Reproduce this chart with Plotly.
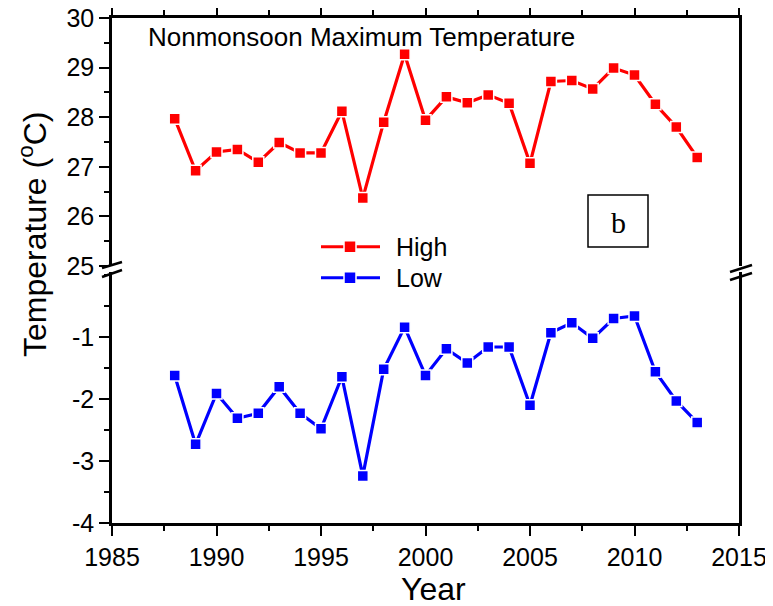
import plotly.graph_objects as go

years = list(range(1988, 2014))
high = [27.97, 26.92, 27.30, 27.35, 27.09, 27.49, 27.28, 27.28, 28.12, 26.37, 27.90,
        29.27, 27.94, 28.41, 28.29, 28.45, 28.28, 27.07, 28.72, 28.74, 28.57, 28.99,
        28.85, 28.26, 27.80, 27.19]
low = [-1.62, -2.73, -1.91, -2.31, -2.23, -1.80, -2.23, -2.48, -1.64, -3.24, -1.52,
       -0.84, -1.62, -1.19, -1.42, -1.16, -1.16, -2.10, -0.93, -0.77, -1.02, -0.70,
       -0.66, -1.56, -2.03, -2.38]
series_names = ["High", "Low"]
title_text = "Nonmonsoon Maximum Temperature"
low_ticks = [-4, -3, -2, -1]
low_ticklabels = ["-4", "-3", "-2", "-1"]
high_ticks = [25, 26, 27, 28, 29, 30]

# page body offset of 8px -> figure sized to fit the window
OFF = 8
W, H = 773 - OFF, 606 - OFF
# plot area in screen pixels
L, R, T, B = 112, 739, 18, 523


def fx(px):
    return (px - L) / (R - L)


def fy(py):
    return (B - py) / (B - T)


FONT = "Liberation Sans, Arial, sans-serif"
RED, BLUE = "#ff0000", "#0000ff"

fig = go.Figure()
fig.add_trace(go.Scatter(
    x=years, y=high, name=series_names[0], xaxis="x2", yaxis="y2",
    mode="lines+markers", line=dict(color=RED, width=3.2),
    marker=dict(symbol="square", size=11, color=RED, line=dict(color="white", width=1.5)),
    showlegend=False))
fig.add_trace(go.Scatter(
    x=years, y=low, name=series_names[1], xaxis="x", yaxis="y",
    mode="lines+markers", line=dict(color=BLUE, width=3.2),
    marker=dict(symbol="square", size=11, color=BLUE, line=dict(color="white", width=1.5)),
    showlegend=False))

ax_common = dict(showgrid=False, zeroline=False, linecolor="black", linewidth=2.5,
                 ticks="outside", tickwidth=2, tickcolor="black", automargin=False,
                 ticklabeloverflow="allow",
                 tickfont=dict(family=FONT, size=25, color="black"))

fig.update_layout(
    width=W, height=H,
    margin=dict(l=L - OFF, r=W - (R - OFF), t=T - OFF, b=H - (B - OFF), pad=0),
    paper_bgcolor="white", plot_bgcolor="white",
    showlegend=False,
    xaxis=dict(**ax_common, range=[1985, 2015], dtick=5, tick0=1985, ticklen=10,
               minor=dict(dtick=2.5, tick0=1985, ticklen=5, tickwidth=2, ticks="outside", showgrid=False),
               anchor="y", domain=[0, 1]),
    xaxis2=dict(**{k: v for k, v in ax_common.items() if k not in ("tickfont", "ticklabeloverflow")},
                range=[1985, 2015], dtick=5, tick0=1985, ticklen=9,
                minor=dict(dtick=2.5, tick0=1985, ticklen=5, tickwidth=2, ticks="outside", showgrid=False),
                anchor="y2", side="top", showticklabels=False, matches="x", domain=[0, 1]),
    yaxis=dict(**ax_common, range=[-4, 0.05], ticklen=10,
               tickmode="array", tickvals=low_ticks, ticktext=low_ticklabels,
               minor=dict(dtick=0.5, tick0=-4, ticklen=5, tickwidth=2, ticks="outside", showgrid=False),
               mirror=True, anchor="x", domain=[0, fy(272)]),
    yaxis2=dict(**ax_common, range=[25, 30], ticklen=10,
                tickmode="array", tickvals=high_ticks, ticktext=[str(v) for v in high_ticks],
                minor=dict(dtick=0.5, tick0=25, ticklen=5, tickwidth=2, ticks="outside", showgrid=False),
                mirror=True, anchor="x2", domain=[fy(266), 1]),
)

shapes = []
# axis break marks
for (x0, x1, ya, yb) in [(102, 122, 268, 262), (102, 122, 277, 270),
                         (730, 752, 272, 265), (730, 752, 280, 273)]:
    shapes.append(dict(type="line", xref="paper", yref="paper",
                       x0=fx(x0), x1=fx(x1), y0=fy(ya), y1=fy(yb),
                       line=dict(color="black", width=2.5)))
# legend symbols
for py, col in [(246.7, RED), (277.7, BLUE)]:
    shapes.append(dict(type="line", xref="paper", yref="paper",
                       x0=fx(321), x1=fx(380), y0=fy(py), y1=fy(py),
                       line=dict(color=col, width=3)))
    shapes.append(dict(type="rect", xref="paper", yref="paper",
                       x0=fx(344), x1=fx(356), y0=fy(py + 6), y1=fy(py - 6),
                       fillcolor=col, line=dict(color="white", width=1.5)))
# "b" box
shapes.append(dict(type="rect", xref="paper", yref="paper",
                   x0=fx(588), x1=fx(648), y0=fy(247), y1=fy(195),
                   line=dict(color="black", width=1.5), fillcolor="rgba(0,0,0,0)"))

annotations = [
    dict(text=title_text, xref="paper", yref="paper", x=fx(146), y=fy(37),
         xanchor="left", yanchor="middle", showarrow=False,
         font=dict(family=FONT, size=26, color="black")),
    dict(text=series_names[0], xref="paper", yref="paper", x=fx(394), y=fy(246.7),
         xanchor="left", yanchor="middle", showarrow=False,
         font=dict(family=FONT, size=25, color="black")),
    dict(text=series_names[1], xref="paper", yref="paper", x=fx(394), y=fy(277.7),
         xanchor="left", yanchor="middle", showarrow=False,
         font=dict(family=FONT, size=25, color="black")),
    dict(text="b", xref="paper", yref="paper", x=fx(618), y=fy(222),
         xanchor="center", yanchor="middle", showarrow=False,
         font=dict(family="Liberation Serif, Times New Roman, serif", size=30, color="black")),
    dict(text="Year", xref="paper", yref="paper", x=fx(433), y=fy(589),
         xanchor="center", yanchor="middle", showarrow=False,
         font=dict(family=FONT, size=32, color="black")),
    dict(text="Temperature (<sup>o</sup>C)", xref="paper", yref="paper", x=fx(33), y=fy(235),
         xanchor="center", yanchor="middle", showarrow=False, textangle=-90,
         font=dict(family=FONT, size=32, color="black")),
]

fig.update_layout(shapes=shapes, annotations=annotations)
fig.write_html("out.html")
